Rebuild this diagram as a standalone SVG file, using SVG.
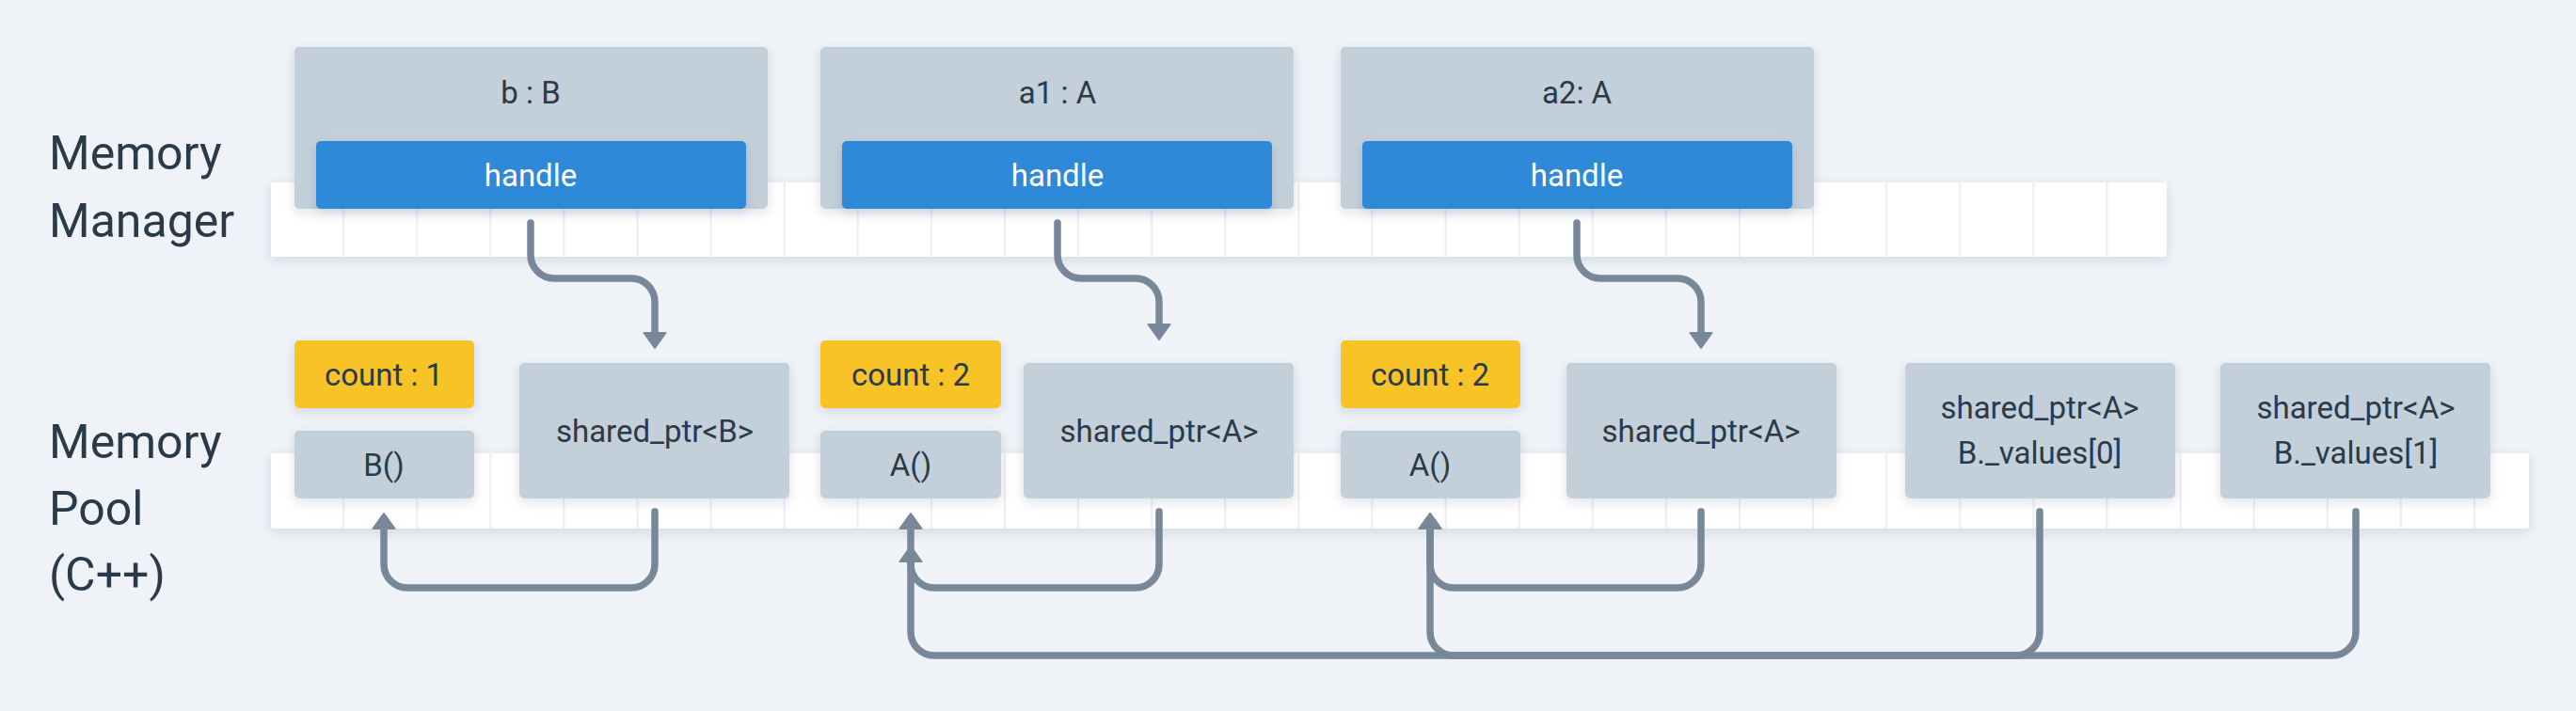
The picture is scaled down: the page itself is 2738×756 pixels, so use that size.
<svg xmlns="http://www.w3.org/2000/svg" width="2738" height="756" viewBox="0 0 2738 756">
<defs>
<filter id="sh" x="-10%" y="-20%" width="120%" height="150%">
<feDropShadow dx="0" dy="4" stdDeviation="6" flood-color="#1f3a55" flood-opacity="0.13"/>
</filter>
<marker id="arr" viewBox="0 0 18 26" refX="1" refY="13" markerWidth="18" markerHeight="26" markerUnits="userSpaceOnUse" orient="auto">
<path d="M1,1.5 L17,13 L1,24.5 Z" fill="#788898" stroke="#788898" stroke-width="2" stroke-linejoin="round"/>
</marker>
<pattern id="cells" x="288" y="0" width="78.1" height="756" patternUnits="userSpaceOnUse">
<rect x="76" y="0" width="4" height="756" fill="#EBEFF3"/>
</pattern>
</defs>
<style>
.lbl{font-family:Roboto,"Liberation Sans",sans-serif;font-size:50px;fill:#2B3A49}
.t{font-family:Roboto,"Liberation Sans",sans-serif;font-size:33px;fill:#2B3A49;text-anchor:middle}
.tw{font-family:Roboto,"Liberation Sans",sans-serif;font-size:33px;fill:#FFFFFF;text-anchor:middle}
.box{fill:#C3CFD9}
.hdl{fill:#2D89D8}
.cnt{fill:#F7C325}
.grid{fill:#FFFFFF}
.c{fill:none;stroke:#788898;stroke-width:7.5;stroke-linecap:round;stroke-linejoin:round}
</style>
<rect width="2738" height="756" fill="#EFF3F7"/>

<g id="labels">
<text class="lbl" x="52" y="180">Memory</text>
<text class="lbl" x="52" y="252">Manager</text>
<text class="lbl" x="52" y="487">Memory</text>
<text class="lbl" x="52" y="558">Pool</text>
<text class="lbl" x="52" y="628">(C++)</text>
</g>

<g id="manager-grid">
<rect class="grid" x="288" y="194" width="2015" height="79" rx="3" filter="url(#sh)"/>
<rect x="288" y="194" width="2015" height="79" fill="url(#cells)"/>
</g>
<g id="pool-grid">
<rect class="grid" x="288" y="482" width="2400" height="80" rx="3" filter="url(#sh)"/>
<rect x="288" y="482" width="2400" height="80" fill="url(#cells)"/>
</g>

<g id="obj-b">
<rect class="box" x="313" y="50" width="503" height="172" rx="5" filter="url(#sh)"/>
<text class="t" x="564" y="110">b : B</text>
<rect class="hdl" x="336" y="150" width="457" height="72" rx="5" filter="url(#sh)"/>
<text class="tw" x="564" y="198">handle</text>
</g>
<g id="obj-a1">
<rect class="box" x="872" y="50" width="503" height="172" rx="5" filter="url(#sh)"/>
<text class="t" x="1124" y="110">a1 : A</text>
<rect class="hdl" x="895" y="150" width="457" height="72" rx="5" filter="url(#sh)"/>
<text class="tw" x="1124" y="198">handle</text>
</g>
<g id="obj-a2">
<rect class="box" x="1425" y="50" width="503" height="172" rx="5" filter="url(#sh)"/>
<text class="t" x="1676" y="110">a2: A</text>
<rect class="hdl" x="1448" y="150" width="457" height="72" rx="5" filter="url(#sh)"/>
<text class="tw" x="1676" y="198">handle</text>
</g>

<g id="count-b">
<rect class="cnt" x="313" y="362" width="191" height="72" rx="5" filter="url(#sh)"/>
<text class="t" x="408" y="410">count : 1</text>
</g>
<g id="ctor-b">
<rect class="box" x="313" y="458" width="191" height="72" rx="5" filter="url(#sh)"/>
<text class="t" x="408" y="506">B()</text>
</g>
<g id="sp-b">
<rect class="box" x="552" y="386" width="287" height="144" rx="5" filter="url(#sh)"/>
<text class="t" x="696" y="470">shared_ptr&lt;B&gt;</text>
</g>

<g id="count-a1">
<rect class="cnt" x="872" y="362" width="192" height="72" rx="5" filter="url(#sh)"/>
<text class="t" x="968" y="410">count : 2</text>
</g>
<g id="ctor-a1">
<rect class="box" x="872" y="458" width="192" height="72" rx="5" filter="url(#sh)"/>
<text class="t" x="968" y="506">A()</text>
</g>
<g id="sp-a1">
<rect class="box" x="1088" y="386" width="287" height="144" rx="5" filter="url(#sh)"/>
<text class="t" x="1232" y="470">shared_ptr&lt;A&gt;</text>
</g>

<g id="count-a2">
<rect class="cnt" x="1425" y="362" width="191" height="72" rx="5" filter="url(#sh)"/>
<text class="t" x="1520" y="410">count : 2</text>
</g>
<g id="ctor-a2">
<rect class="box" x="1425" y="458" width="191" height="72" rx="5" filter="url(#sh)"/>
<text class="t" x="1520" y="506">A()</text>
</g>
<g id="sp-a2">
<rect class="box" x="1665" y="386" width="287" height="144" rx="5" filter="url(#sh)"/>
<text class="t" x="1808" y="470">shared_ptr&lt;A&gt;</text>
</g>

<g id="values0">
<rect class="box" x="2025" y="386" width="287" height="144" rx="5" filter="url(#sh)"/>
<text class="t" x="2168" y="445">shared_ptr&lt;A&gt;</text>
<text class="t" x="2168" y="493">B._values[0]</text>
</g>
<g id="values1">
<rect class="box" x="2360" y="386" width="287" height="144" rx="5" filter="url(#sh)"/>
<text class="t" x="2504" y="445">shared_ptr&lt;A&gt;</text>
<text class="t" x="2504" y="493">B._values[1]</text>
</g>

<g id="connectors">
<path class="c" d="M564,237 V271 A25,25 0 0 0 589,296 H671 A25,25 0 0 1 696,321 V354" marker-end="url(#arr)"/>
<path class="c" d="M1124,237 V271 A25,25 0 0 0 1149,296 H1207 A25,25 0 0 1 1232,321 V345" marker-end="url(#arr)"/>
<path class="c" d="M1676,237 V271 A25,25 0 0 0 1701,296 H1783 A25,25 0 0 1 1808,321 V354" marker-end="url(#arr)"/>
<path class="c" d="M696,544 V600 A25,25 0 0 1 671,625 H433 A25,25 0 0 1 408,600 V562" marker-end="url(#arr)"/>
<path class="c" d="M1232,544 V600 A25,25 0 0 1 1207,625 H993 A25,25 0 0 1 968,600 V562" marker-end="url(#arr)"/>
<path class="c" d="M1808,544 V600 A25,25 0 0 1 1783,625 H1545 A25,25 0 0 1 1520,600 V562" marker-end="url(#arr)"/>
<path class="c" d="M2168,544 V672 A25,25 0 0 1 2143,697 H993 A25,25 0 0 1 968,672 V597" marker-end="url(#arr)"/>
<path class="c" d="M2504,544 V672 A25,25 0 0 1 2479,697 H1545 A25,25 0 0 1 1520,672 V562" marker-end="url(#arr)"/>
</g>
</svg>
